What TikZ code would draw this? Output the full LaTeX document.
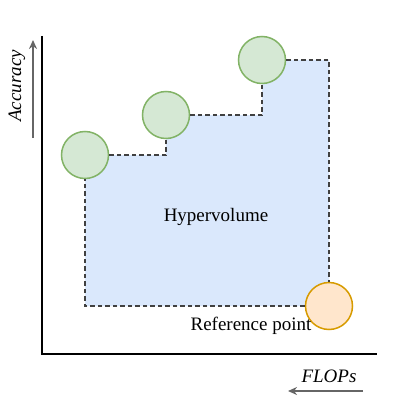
\documentclass[tikz,border=0pt]{standalone}
\usepackage{fontspec}
\setmainfont{Liberation Serif}
\usetikzlibrary{arrows.meta}
\definecolor{hvblue}{HTML}{DAE8FC}
\definecolor{ptfill}{HTML}{D5E8D4}
\definecolor{ptline}{HTML}{82B366}
\definecolor{reffill}{HTML}{FFE6CC}
\definecolor{refline}{HTML}{D79B00}
\definecolor{axgray}{HTML}{666666}
\begin{document}
\begin{tikzpicture}[x=1pt,y=-1pt,font=\fontsize{19}{22}\selectfont,
  pt/.style={circle,draw=ptline,fill=ptfill,line width=1.5pt,minimum size=47pt,inner sep=0pt},
  refpt/.style={circle,draw=refline,fill=reffill,line width=1.5pt,minimum size=47pt,inner sep=0pt},
  dashline/.style={draw=black!75,line width=1.2pt,dash pattern=on 4.5pt off 3pt},
  axarrow/.style={draw=axgray,line width=1.5pt,-{Stealth[length=9pt,width=8pt]}}]
\useasboundingbox (0,0) rectangle (415,404);
\coordinate (O) at (42,354);
\coordinate (T) at (42,36);
\coordinate (E) at (377,354);
\coordinate (c1) at (85,155);
\coordinate (c2) at (166,115);
\coordinate (c3) at (262,60);
\coordinate (cr) at (329,306);
% dominated region
\fill[hvblue] (c1) -| (c2) -| (c3) -| (cr) -| (c1);
\node[pt] (P1) at (c1) {};
\node[pt] (P2) at (c2) {};
\node[pt] (P3) at (c3) {};
\node[refpt] (R) at (cr) {};
\draw[dashline] (P1) -| (P2);
\draw[dashline] (P2) -| (P3);
\draw[dashline] (P3) -| (R);
\draw[dashline] (R) -| (P1);
\node (hv) at (216,217) {Hypervolume};
\node (rp) at (251,326) {Reference point};
% axes
\draw[line width=1.5pt] (T) -- (O) -- (E);
\coordinate (A1) at (33,138);
\coordinate (A2) at (33,40);
\draw[axarrow] (A1) -- (A2);
\node[rotate=90,font=\fontsize{19}{22}\selectfont\itshape] (acc) at (17,86) {Accuracy};
\coordinate (F1) at (363,391);
\coordinate (F2) at (288,391);
\draw[axarrow] (F1) -- (F2);
\node[font=\fontsize{19}{22}\selectfont\itshape] (flops) at (329,376) {FLOPs};
\end{tikzpicture}
\end{document}
